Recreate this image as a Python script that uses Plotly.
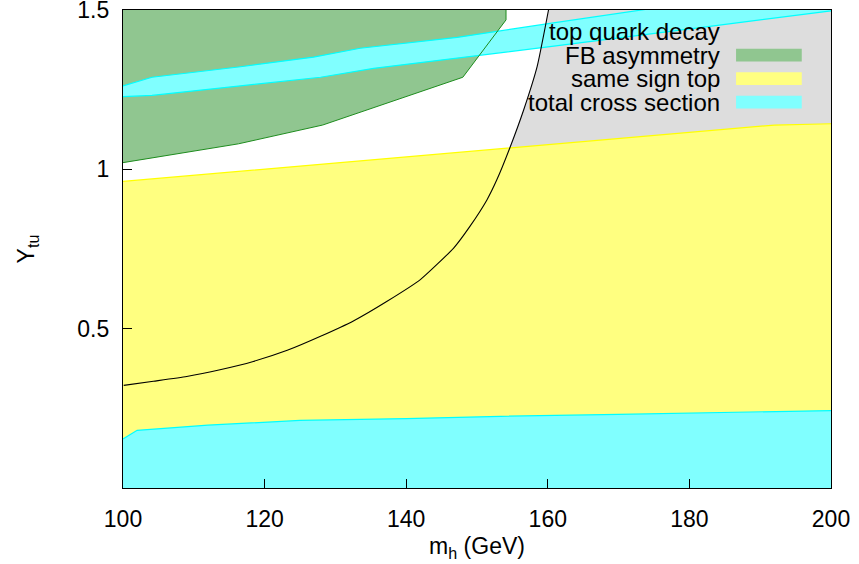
import plotly.graph_objects as go

# ---- data ----
# top quark decay boundary curve (m_h, Y_tu)
decay_x = [100.1, 104.3, 109.0, 113.7, 118.4, 123.2, 127.9, 132.6, 137.3, 142.0, 146.7, 149.0,
           151.4, 152.8, 154.7, 156.6, 158.5, 160.1]
decay_y = [0.322, 0.335, 0.350, 0.371, 0.397, 0.432, 0.476, 0.525, 0.586, 0.654, 0.753, 0.821,
           0.904, 0.967, 1.071, 1.187, 1.323, 1.500]

# FB asymmetry allowed region, lower boundary (upper edge = top of plot)
fb_x = [100.0, 116.3, 128.2, 148.0, 154.1, 154.1]
fb_y = [1.021, 1.080, 1.139, 1.289, 1.469, 1.500]

# same sign top: upper boundary
ss_x = [100.0, 120.0, 140.0, 160.0, 180.0, 192.0, 200.0]
ss_y = [0.962, 1.000, 1.038, 1.077, 1.115, 1.139, 1.143]

# total cross section: lower band (0 .. line)
tc_low_x = [100.0, 102.0, 112.0, 125.0, 140.0, 153.3, 170.0, 185.0, 200.0]
tc_low_y = [0.154, 0.181, 0.197, 0.212, 0.218, 0.225, 0.231, 0.237, 0.243]

# total cross section: upper band, lower and upper edges
tc_hi_lo_x = [100.0, 104.1, 116.6, 127.9, 135.4, 148.6, 160.3, 181.5, 200.0]
tc_hi_lo_y = [1.228, 1.232, 1.262, 1.289, 1.317, 1.352, 1.385, 1.445, 1.497]
tc_hi_up_x = [100.0, 104.1, 116.6, 126.9, 133.5, 147.2, 160.3, 181.5, 200.0]
tc_hi_up_y = [1.262, 1.289, 1.322, 1.352, 1.380, 1.414, 1.458, 1.527, 1.590]

x_range = [100, 200]
y_range = [0, 1.5]
x_ticks = [100, 120, 140, 160, 180, 200]
y_ticks = [0.5, 1.0, 1.5]
y_tick_text = ["0.5", "1", "1.5"]

legend_labels = ["top quark decay", "FB asymmetry", "same sign top", "total cross section"]

# ---- styles ----
GRAY = "#DDDDDD"
GREEN_FILL = "#90C690"
GREEN_LINE = "#1E8C1E"
YELLOW_FILL = "#FFFF80"
YELLOW_LINE = "#FFFF00"
CYAN_FILL = "#80FFFF"
CYAN_LINE = "#00FFFF"
FONT = "Liberation Sans, Arial, sans-serif"

fig = go.Figure()

# gray region: right of / below the decay curve
fig.add_trace(go.Scatter(
    x=decay_x + [x_range[1], x_range[1], x_range[0]],
    y=decay_y + [y_range[1], y_range[0], y_range[0]],
    fill="toself", fillcolor=GRAY, line=dict(width=0), mode="lines",
    hoverinfo="skip", showlegend=False))

# same sign top (yellow)
fig.add_trace(go.Scatter(
    x=ss_x + [ss_x[-1], ss_x[0]],
    y=ss_y + [y_range[0], y_range[0]],
    fill="toself", fillcolor=YELLOW_FILL, line=dict(width=0), mode="lines",
    hoverinfo="skip", showlegend=False))
fig.add_trace(go.Scatter(x=ss_x, y=ss_y, mode="lines",
                         line=dict(color=YELLOW_LINE, width=1.2),
                         hoverinfo="skip", showlegend=False))

# FB asymmetry (green) fill
fig.add_trace(go.Scatter(
    x=[fb_x[0]] + fb_x + [fb_x[0]],
    y=[y_range[1]] + fb_y + [y_range[1]],
    fill="toself", fillcolor=GREEN_FILL, line=dict(width=0), mode="lines",
    hoverinfo="skip", showlegend=False))

# total cross section lower band
fig.add_trace(go.Scatter(
    x=tc_low_x + [tc_low_x[-1], tc_low_x[0]],
    y=tc_low_y + [y_range[0], y_range[0]],
    fill="toself", fillcolor=CYAN_FILL, line=dict(width=0), mode="lines",
    hoverinfo="skip", showlegend=False))
fig.add_trace(go.Scatter(x=tc_low_x, y=tc_low_y, mode="lines",
                         line=dict(color=CYAN_LINE, width=1.2),
                         hoverinfo="skip", showlegend=False))

# total cross section upper band
fig.add_trace(go.Scatter(
    x=tc_hi_lo_x + tc_hi_up_x[::-1],
    y=tc_hi_lo_y + tc_hi_up_y[::-1],
    fill="toself", fillcolor=CYAN_FILL, line=dict(color=CYAN_LINE, width=1.2),
    mode="lines", hoverinfo="skip", showlegend=False))

# FB asymmetry edge
fig.add_trace(go.Scatter(x=fb_x, y=fb_y, mode="lines",
                         line=dict(color=GREEN_LINE, width=1),
                         hoverinfo="skip", showlegend=False))

# decay curve
fig.add_trace(go.Scatter(x=decay_x, y=decay_y, mode="lines",
                         line=dict(color="black", width=1.1, shape="spline", smoothing=0.5),
                         hoverinfo="skip", showlegend=False))

# ---- custom legend (text right-aligned, swatch on the right) ----
legend_colors = [None, GREEN_FILL, YELLOW_FILL, CYAN_FILL]
row_y0 = 0.955
row_dy = 0.0492
for i, (lab, col) in enumerate(zip(legend_labels, legend_colors)):
    yy = row_y0 - i * row_dy
    fig.add_annotation(x=0.8457, y=yy, xref="paper", yref="paper",
                       text=lab, showarrow=False, xanchor="right", yanchor="middle",
                       font=dict(size=24, color="black", family=FONT))
    if col is not None:
        fig.add_shape(type="rect", xref="paper", yref="paper",
                      x0=0.8659, x1=0.9587, y0=yy - 0.0133, y1=yy + 0.0133,
                      fillcolor=col, line=dict(width=0))

axis_common = dict(showgrid=False, zeroline=False, ticks="inside", ticklen=9,
                   tickwidth=1, tickcolor="black", showline=True, linecolor="black",
                   linewidth=1.2, mirror=True, ticklabeloverflow="allow",
                   tickfont=dict(size=23, color="black", family=FONT))

fig.update_xaxes(range=x_range, tickvals=x_ticks, ticklabelstandoff=10,
                 title=dict(text="m<sub>h</sub> (GeV)", standoff=7,
                            font=dict(size=23, color="black", family=FONT)),
                 **axis_common)
fig.update_yaxes(range=y_range, tickvals=y_ticks, ticktext=y_tick_text, ticklabelstandoff=8,
                 title=dict(text="Y<sub>tu</sub>", standoff=36,
                            font=dict(size=23, color="black", family=FONT)),
                 **axis_common)

fig.update_layout(width=859, height=564,
                  margin=dict(l=123, r=28, t=10, b=76, autoexpand=False),
                  plot_bgcolor="white", paper_bgcolor="white",
                  font=dict(family=FONT, color="black"),
                  showlegend=False)

fig.write_html("out.html", config={"displayModeBar": False},
               post_script="document.body.style.margin='0';document.body.style.overflow='hidden';")
